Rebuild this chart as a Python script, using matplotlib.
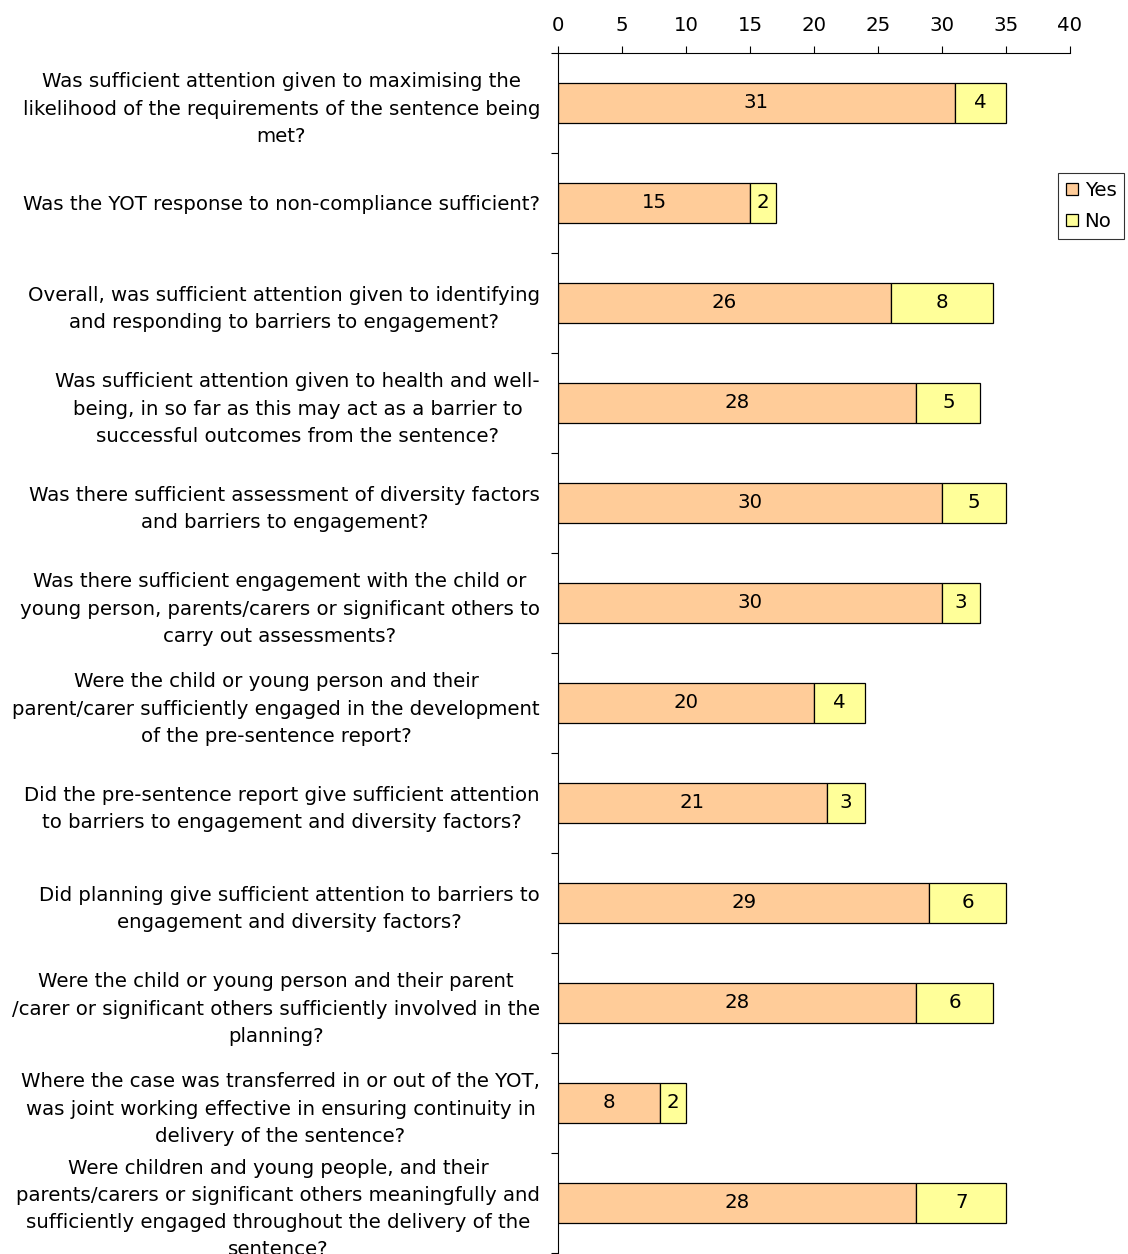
import matplotlib
matplotlib.use("Agg")
import matplotlib.pyplot as plt
import numpy as np

categories = [
    "Was sufficient attention given to maximising the\nlikelihood of the requirements of the sentence being\nmet?",
    "Was the YOT response to non-compliance sufficient?",
    "Overall, was sufficient attention given to identifying\nand responding to barriers to engagement?",
    "Was sufficient attention given to health and well-\nbeing, in so far as this may act as a barrier to\nsuccessful outcomes from the sentence?",
    "Was there sufficient assessment of diversity factors\nand barriers to engagement?",
    "Was there sufficient engagement with the child or\nyoung person, parents/carers or significant others to\ncarry out assessments?",
    "Were the child or young person and their\nparent/carer sufficiently engaged in the development\nof the pre-sentence report?",
    "Did the pre-sentence report give sufficient attention\nto barriers to engagement and diversity factors?",
    "Did planning give sufficient attention to barriers to\nengagement and diversity factors?",
    "Were the child or young person and their parent\n/carer or significant others sufficiently involved in the\nplanning?",
    "Where the case was transferred in or out of the YOT,\nwas joint working effective in ensuring continuity in\ndelivery of the sentence?",
    "Were children and young people, and their\nparents/carers or significant others meaningfully and\nsufficiently engaged throughout the delivery of the\nsentence?",
]
yes_values = [31, 15, 26, 28, 30, 30, 20, 21, 29, 28, 8, 28]
no_values = [4, 2, 8, 5, 5, 3, 4, 3, 6, 6, 2, 7]
series_names = ["Yes", "No"]
x_ticks = [0, 5, 10, 15, 20, 25, 30, 35, 40]

plt.rcParams['font.family'] = ['DejaVu Sans']
FS = 14.2

fig = plt.figure(figsize=(11.28, 12.54), dpi=100)
ax = fig.add_axes([558/1128, 1 - 1253/1254, (1070-558)/1128, (1253-53)/1254])

y = np.arange(len(categories))
yes_col = "#FFCC99"
no_col = "#FFFF99"
b1 = ax.barh(y, yes_values, height=0.4, color=yes_col, edgecolor="black", linewidth=0.9, label=series_names[0])
b2 = ax.barh(y, no_values, left=yes_values, height=0.4, color=no_col, edgecolor="black", linewidth=0.9, label=series_names[1])
for vals, lefts in ((yes_values, [0]*len(yes_values)), (no_values, yes_values)):
    for v, l, yy in zip(vals, lefts, y):
        ax.text(l + v/2, yy, str(v), ha="center", va="center", fontsize=FS)

ax.set_xlim(0, 40)
ax.set_ylim(len(categories) - 0.5, -0.5)
ax.xaxis.tick_top()
ax.set_xticks(x_ticks)
ax.set_xticklabels([str(t) for t in x_ticks], fontsize=FS)
ax.tick_params(axis="x", direction="out", length=5, width=0.8, pad=8)

ax.set_yticks(y)
ax.set_yticklabels(categories, fontsize=FS, multialignment="center", linespacing=1.54)
ax.tick_params(axis="y", which="major", length=0, pad=13)
ax.set_yticks(np.arange(-0.5, len(categories) + 0.5, 1), minor=True)
ax.tick_params(axis="y", which="minor", direction="out", length=5, width=0.8)

for s in ("right", "bottom"):
    ax.spines[s].set_visible(False)
for s in ("left", "top"):
    ax.spines[s].set_linewidth(0.8)

leg = fig.legend(handles=[b1, b2], labels=series_names, loc="upper left",
                 bbox_to_anchor=(1058/1128, 1 - 173/1254), fontsize=FS,
                 frameon=True, fancybox=False, edgecolor="black",
                 handlelength=0.6, handleheight=0.6, handletextpad=0.35,
                 borderpad=0.4, labelspacing=0.6, borderaxespad=0)
leg.get_frame().set_linewidth(0.8)

fig.savefig("out.png", dpi=100)
